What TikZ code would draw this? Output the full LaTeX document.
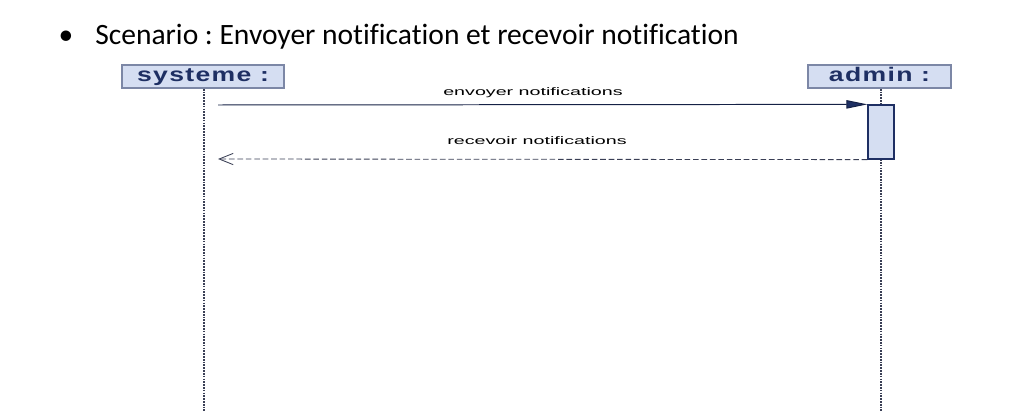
\documentclass[tikz,border=0pt]{standalone}
\usepackage{fontspec}
\setmainfont[Ligatures=NoCommon]{Carlito}
\newfontfamily\arialf{Liberation Sans}
\usetikzlibrary{arrows.meta}
\definecolor{boxfill}{HTML}{D5DEF2}
\definecolor{boxline}{HTML}{7C87A6}
\definecolor{navy}{HTML}{1E2F63}
\definecolor{lifel}{HTML}{3A3F55}
\frenchspacing
\newcommand{\widetxt}[1]{\scalebox{1.35}[1]{\addfontfeatures{LetterSpace=5}#1}}
\tikzset{
  x=0.025cm, y=-0.025cm,
  objbox/.style={draw=boxline, line width=1.2pt, fill=boxfill, inner sep=0pt,
    minimum height=23*0.025cm, text height=10.5pt, text depth=3pt, text=navy,
    font=\arialf\bfseries\fontsize{14}{14}\selectfont},
  lifeline/.style={draw=lifel, line width=1.9pt, dash pattern=on 1.2pt off 0.8pt},
  actbox/.style={draw=navy, line width=0.9pt, fill=boxfill, inner sep=0pt,
    minimum width=26*0.025cm, minimum height=54*0.025cm},
  msglabel/.style={font=\arialf\fontsize{14}{14}\selectfont, yscale=0.55, text=black, inner sep=0pt},
  syncmsg/.style={draw=navy!70!black, line width=0.7pt, -{Triangle[length=15pt,width=6pt,fill=navy]}},
  retmsg/.style={draw=lifel, line width=0.6pt, dash pattern=on 4pt off 2pt, -{Straight Barb[length=10pt,width=8pt]}}
}
\begin{document}
\begin{tikzpicture}
\useasboundingbox (0,0) rectangle (1015,412);
% title
\node[anchor=base, font=\fontsize{21}{21}\selectfont, inner sep=0pt] (bul) at (66,45) {•};
\node[anchor=base west, font=\fontsize{21}{21}\selectfont, inner sep=0pt] (title) at (95,45) {Scenario : Envoyer notification et recevoir notification};
% objects
\node[objbox, minimum width=162*0.025cm] (sys) at (203,76.5) {\widetxt{systeme :}};
\node[objbox, minimum width=143*0.025cm] (adm) at (879.5,76.5) {\widetxt{admin :}};
% lifelines
\coordinate (sysend) at (204,412);
\coordinate (admend) at (881,412);
\draw[lifeline] (sys.south -| sysend) -- (sysend);
\draw[lifeline] (adm.south -| admend) -- (admend);
% activation
\node[actbox] (act) at (881,132) {};
% messages
\coordinate (m1s) at (218,105);
\coordinate (m2e) at (218,159);
\draw[syncmsg] (m1s) -- (act.north west);
\draw[retmsg] (act.south west) -- (m2e);
\node[msglabel] (l1) at (533,93) {envoyer notifications};
\node[msglabel] (l2) at (537,141) {recevoir notifications};
\end{tikzpicture}
\end{document}
